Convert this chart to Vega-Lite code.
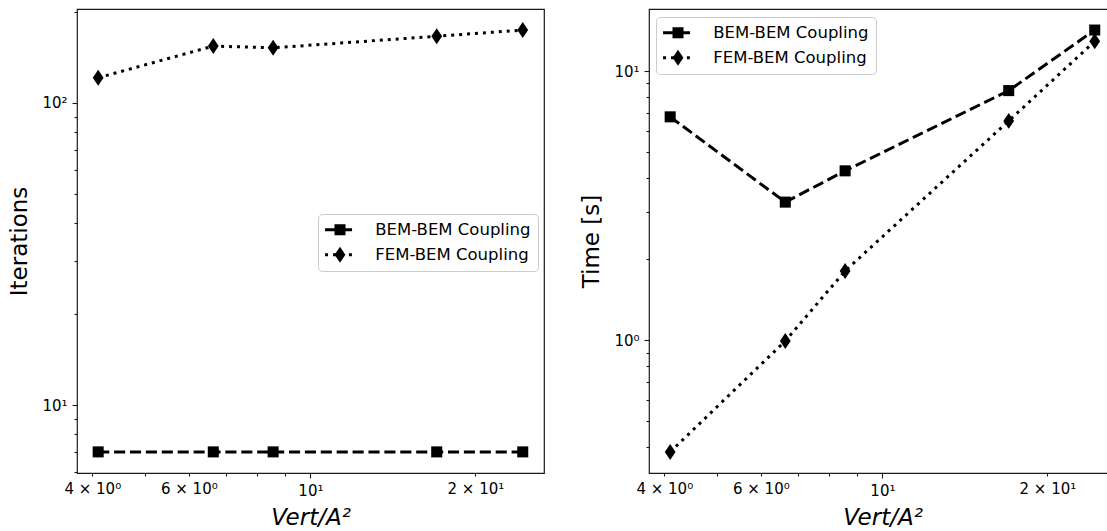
{
  "$schema": "https://vega.github.io/schema/vega-lite/v6.json",
  "padding": {"left": 8, "top": 8, "right": 0, "bottom": 0},
  "spacing": 35,
  "resolve": {"scale": {"shape": "independent", "strokeDash": "independent"}, "legend": {"shape": "independent", "strokeDash": "independent"}},
  "datasets": {
    "iterations": [
      {"series": "BEM-BEM Coupling", "x": 4.1, "y": 7},
      {"series": "BEM-BEM Coupling", "x": 6.65, "y": 7},
      {"series": "BEM-BEM Coupling", "x": 8.55, "y": 7},
      {"series": "BEM-BEM Coupling", "x": 17.0, "y": 7},
      {"series": "BEM-BEM Coupling", "x": 24.4, "y": 7},
      {"series": "FEM-BEM Coupling", "x": 4.1, "y": 121},
      {"series": "FEM-BEM Coupling", "x": 6.65, "y": 154},
      {"series": "FEM-BEM Coupling", "x": 8.55, "y": 152},
      {"series": "FEM-BEM Coupling", "x": 17.0, "y": 166},
      {"series": "FEM-BEM Coupling", "x": 24.4, "y": 174}
    ],
    "time": [
      {"series": "BEM-BEM Coupling", "x": 4.1, "y": 6.76},
      {"series": "BEM-BEM Coupling", "x": 6.65, "y": 3.26},
      {"series": "BEM-BEM Coupling", "x": 8.55, "y": 4.26},
      {"series": "BEM-BEM Coupling", "x": 17.0, "y": 8.46},
      {"series": "BEM-BEM Coupling", "x": 24.4, "y": 14.2},
      {"series": "FEM-BEM Coupling", "x": 4.1, "y": 0.385},
      {"series": "FEM-BEM Coupling", "x": 6.65, "y": 0.994},
      {"series": "FEM-BEM Coupling", "x": 8.55, "y": 1.81},
      {"series": "FEM-BEM Coupling", "x": 17.0, "y": 6.53},
      {"series": "FEM-BEM Coupling", "x": 24.4, "y": 12.9}
    ]
  },
  "config": {
    "font": "DejaVu Sans",
    "view": {"stroke": "#1a1a1a", "strokeWidth": 1.2},
    "axis": {
      "domain": false, "grid": false, "tickColor": "#1a1a1a", "tickWidth": 1.1,
      "labelFont": "DejaVu Sans", "labelFontSize": 15, "labelColor": "#000",
      "titleFont": "DejaVu Sans", "titleFontSize": 23, "titleFontWeight": "normal", "titleColor": "#000",
      "labelOverlap": false, "labelFlush": false, "labelBound": false
    },
    "axisX": {"labelPadding": 5, "titlePadding": 8, "titleFontStyle": "italic"},
    "axisY": {"labelPadding": 5, "titlePadding": 10},
    "legend": {
      "orient": "none", "title": null, "padding": 7.5,
      "labelFont": "DejaVu Sans", "labelFontSize": 16.5, "labelColor": "#000",
      "rowPadding": 8
    }
  },
  "hconcat": [
    {
      "width": 467, "height": 464,
      "data": {"name": "iterations"},
      "encoding": {
        "x": {"field": "x", "type": "quantitative",
          "scale": {"type": "log", "domain": [3.751, 26.68], "nice": false, "zero": false},
          "axis": {"title": "Vert/A²", "values": [4, 5, 6, 7, 8, 9, 10, 20],
            "labelExpr": "datum.value == 4 ? '4 × 10⁰' : datum.value == 6 ? '6 × 10⁰' : datum.value == 10 ? '10¹' : datum.value == 20 ? '2 × 10¹' : ''",
            "tickSize": {"condition": {"test": "datum.value == 10", "value": 5}, "value": 3}}},
        "y": {"field": "y", "type": "quantitative",
          "scale": {"type": "log", "domain": [5.96, 204.3], "nice": false, "zero": false},
          "axis": {"title": "Iterations", "values": [6, 7, 8, 9, 10, 20, 30, 40, 50, 60, 70, 80, 90, 100, 200],
            "labelExpr": "datum.value == 10 ? '10¹' : datum.value == 100 ? '10²' : ''",
            "labelFontSize": {"condition": {"test": "datum.value == 10 || datum.value == 100", "value": 15}, "value": 0},
            "tickSize": {"condition": {"test": "datum.value == 10 || datum.value == 100", "value": 5}, "value": 3}}}
      },
      "layer": [
        {
          "mark": {"type": "line", "color": "black", "strokeWidth": 3, "strokeCap": "butt"},
          "encoding": {
            "strokeDash": {"field": "series", "type": "nominal",
              "scale": {"domain": ["BEM-BEM Coupling", "FEM-BEM Coupling"], "range": [[11.1, 4.8], [3, 4.95]]},
              "legend": {"legendX": 241, "legendY": 205, "zindex": 0, "cornerRadius": 4, "fillColor": "white", "strokeColor": "#cccccc",
                "symbolType": "M-2.3,0H2.3", "symbolSize": 169, "symbolStrokeWidth": 3, "symbolStrokeColor": "black", "symbolFillColor": "transparent", "symbolOffset": 6.25, "labelOffset": 27}}
          }
        },
        {
          "mark": {"type": "point", "filled": true, "color": "black", "opacity": 1, "size": 144, "strokeWidth": 0},
          "encoding": {
            "shape": {"field": "series", "type": "nominal",
              "scale": {"range": ["M-0.92,-0.92H0.92V0.92H-0.92Z", "M0,-1.33L0.9,0L0,1.33L-0.9,0Z"]},
              "legend": {"legendX": 241, "legendY": 205, "zindex": 1, "symbolSize": 144, "symbolStrokeWidth": 0, "symbolFillColor": "black", "symbolOpacity": 1, "symbolOffset": 6.25, "labelOpacity": 0, "labelOffset": 27}}
          }
        }
      ]
    },
    {
      "width": 467, "height": 464,
      "data": {"name": "time"},
      "encoding": {
        "x": {"field": "x", "type": "quantitative",
          "scale": {"type": "log", "domain": [3.751, 26.68], "nice": false, "zero": false},
          "axis": {"title": "Vert/A²", "values": [4, 5, 6, 7, 8, 9, 10, 20],
            "labelExpr": "datum.value == 4 ? '4 × 10⁰' : datum.value == 6 ? '6 × 10⁰' : datum.value == 10 ? '10¹' : datum.value == 20 ? '2 × 10¹' : ''",
            "tickSize": {"condition": {"test": "datum.value == 10", "value": 5}, "value": 3}}},
        "y": {"field": "y", "type": "quantitative",
          "scale": {"type": "log", "domain": [0.3215, 17.0], "nice": false, "zero": false},
          "axis": {"title": "Time [s]", "values": [0.4, 0.5, 0.6, 0.7, 0.8, 0.9, 1, 2, 3, 4, 5, 6, 7, 8, 9, 10],
            "labelExpr": "datum.value == 1 ? '10⁰' : datum.value == 10 ? '10¹' : ''",
            "labelFontSize": {"condition": {"test": "datum.value == 1 || datum.value == 10", "value": 15}, "value": 0},
            "tickSize": {"condition": {"test": "datum.value == 1 || datum.value == 10", "value": 5}, "value": 3}}}
      },
      "layer": [
        {
          "mark": {"type": "line", "color": "black", "strokeWidth": 3, "strokeCap": "butt"},
          "encoding": {
            "strokeDash": {"field": "series", "type": "nominal",
              "scale": {"domain": ["BEM-BEM Coupling", "FEM-BEM Coupling"], "range": [[11.1, 4.8], [3, 4.95]]},
              "legend": {"legendX": 7, "legendY": 8, "zindex": 0, "cornerRadius": 4, "fillColor": "white", "strokeColor": "#cccccc",
                "symbolType": "M-2.3,0H2.3", "symbolSize": 169, "symbolStrokeWidth": 3, "symbolStrokeColor": "black", "symbolFillColor": "transparent", "symbolOffset": 6.25, "labelOffset": 27}}
          }
        },
        {
          "mark": {"type": "point", "filled": true, "color": "black", "opacity": 1, "size": 144, "strokeWidth": 0},
          "encoding": {
            "shape": {"field": "series", "type": "nominal",
              "scale": {"range": ["M-0.92,-0.92H0.92V0.92H-0.92Z", "M0,-1.33L0.9,0L0,1.33L-0.9,0Z"]},
              "legend": {"legendX": 7, "legendY": 8, "zindex": 1, "symbolSize": 144, "symbolStrokeWidth": 0, "symbolFillColor": "black", "symbolOpacity": 1, "symbolOffset": 6.25, "labelOpacity": 0, "labelOffset": 27}}
          }
        }
      ]
    }
  ]
}
